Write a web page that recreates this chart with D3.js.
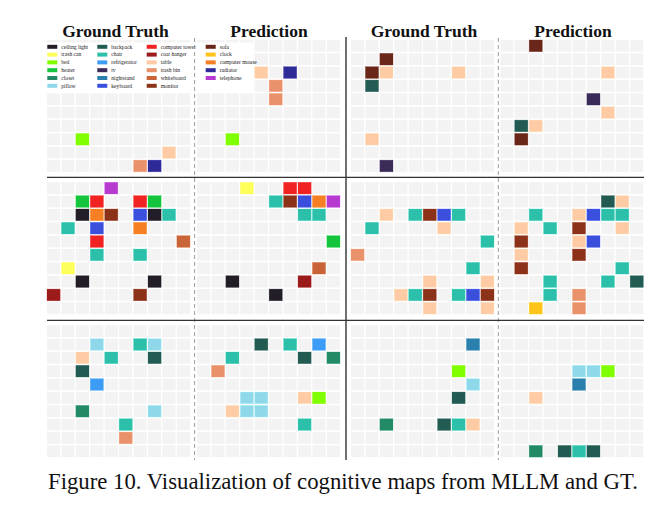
<!DOCTYPE html>
<html lang="en">
<head>
<meta charset="UTF-8">
<title>Cognitive maps</title>
<script src="https://cdn.jsdelivr.net/npm/d3@7"></script>
<style>
  body { margin: 0; background: #fff; }
</style>
</head>
<body>
<script>
// object categories and their colours (legend order, column by column)
const categories = ["ceiling light", "trash can", "bed", "heater", "closet", "pillow",
                    "backpack", "chair", "refrigerator", "tv", "nightstand", "keyboard",
                    "computer tower", "coat hanger", "table", "trash bin", "whiteboard", "monitor",
                    "sofa", "clock", "computer mouse", "radiator", "telephone"];
const colors = ["#221d26", "#ffff5a", "#80ff00", "#14c43c", "#238a66", "#8fd8ea",
                "#225b52", "#2cbfaa", "#3d9cf5", "#3b2b58", "#2a7fad", "#3a50dd",
                "#f02222", "#9b1a1a", "#ffcba4", "#e8916a", "#c86438", "#8c3219",
                "#6a2619", "#ffc41a", "#f57f22", "#2e2a98", "#b73ad0"];

const titles = ["Ground Truth", "Prediction", "Ground Truth", "Prediction"];

// each cell: [column, row, category]  (10 x 10 grid per map)
const scene1GT   = [[2,7,"bed"],[8,8,"table"],[6,9,"trash bin"],[7,9,"radiator"]];
const scene1Pred = [[4,2,"table"],[6,2,"radiator"],[5,3,"trash bin"],[5,4,"trash bin"],[2,7,"bed"]];
const scene2GT   = [[2,1,"sofa"],[1,2,"sofa"],[2,2,"table"],[7,2,"table"],[1,3,"backpack"],
                    [1,7,"table"],[2,9,"tv"]];
const scene2Pred = [[2,0,"sofa"],[7,2,"table"],[6,4,"tv"],[7,5,"table"],[1,6,"backpack"],
                    [2,6,"table"],[1,7,"sofa"]];
const scene3GT   = [[4,0,"telephone"],[2,1,"heater"],[3,1,"computer tower"],[6,1,"computer tower"],
                    [7,1,"heater"],[2,2,"ceiling light"],[3,2,"computer mouse"],[4,2,"monitor"],
                    [6,2,"keyboard"],[7,2,"ceiling light"],[8,2,"chair"],[1,3,"chair"],
                    [3,3,"keyboard"],[6,3,"computer mouse"],[3,4,"computer tower"],[9,4,"whiteboard"],
                    [3,5,"chair"],[6,5,"chair"],[1,6,"trash can"],[2,7,"ceiling light"],
                    [7,7,"ceiling light"],[0,8,"coat hanger"],[6,8,"monitor"]];
const scene3Pred = [[3,0,"trash can"],[6,0,"computer tower"],[7,0,"computer tower"],[5,1,"chair"],
                    [6,1,"monitor"],[7,1,"keyboard"],[8,1,"computer mouse"],[9,1,"telephone"],
                    [7,2,"chair"],[8,2,"chair"],[9,4,"heater"],[8,6,"whiteboard"],
                    [2,7,"ceiling light"],[7,7,"coat hanger"],[5,8,"ceiling light"]];
const scene4GT   = [[2,2,"table"],[4,2,"chair"],[5,2,"monitor"],[6,2,"keyboard"],[7,2,"chair"],
                    [1,3,"chair"],[6,3,"table"],[9,4,"chair"],[0,5,"trash bin"],[8,6,"chair"],
                    [5,7,"table"],[9,7,"table"],[3,8,"table"],[4,8,"chair"],[5,8,"monitor"],
                    [7,8,"chair"],[8,8,"keyboard"],[9,8,"monitor"],[5,9,"table"],[9,9,"table"]];
const scene4Pred = [[7,1,"backpack"],[8,1,"table"],[2,2,"chair"],[5,2,"table"],[6,2,"keyboard"],
                    [7,2,"chair"],[8,2,"chair"],[1,3,"table"],[3,3,"chair"],[5,3,"monitor"],
                    [8,3,"table"],[1,4,"monitor"],[5,4,"table"],[6,4,"keyboard"],[1,5,"table"],
                    [5,5,"monitor"],[1,6,"monitor"],[8,6,"chair"],[3,7,"chair"],[7,7,"chair"],
                    [9,7,"backpack"],[3,8,"chair"],[5,8,"trash bin"],[2,9,"clock"],[5,9,"trash bin"]];
const scene5GT   = [[3,1,"pillow"],[6,1,"chair"],[7,1,"pillow"],[2,2,"table"],[4,2,"chair"],
                    [7,2,"backpack"],[2,3,"backpack"],[3,4,"refrigerator"],[2,6,"closet"],
                    [7,6,"pillow"],[5,7,"chair"],[5,8,"trash bin"]];
const scene5Pred = [[4,1,"backpack"],[6,1,"chair"],[8,1,"refrigerator"],[2,2,"chair"],
                    [7,2,"backpack"],[9,2,"closet"],[1,3,"trash bin"],[3,5,"pillow"],[4,5,"pillow"],
                    [7,5,"table"],[8,5,"bed"],[2,6,"table"],[3,6,"pillow"],[4,6,"pillow"],[7,7,"chair"]];
const scene6GT   = [[8,1,"nightstand"],[7,3,"bed"],[8,4,"pillow"],[7,5,"backpack"],[2,7,"closet"],
                    [6,7,"backpack"],[7,7,"chair"],[8,7,"table"]];
const scene6Pred = [[5,3,"pillow"],[6,3,"pillow"],[7,3,"bed"],[5,4,"nightstand"],[2,5,"table"],
                    [2,9,"closet"],[4,9,"backpack"],[5,9,"chair"],[6,9,"backpack"]];

const maps = [
  [scene1GT, scene1Pred, scene2GT, scene2Pred],
  [scene3GT, scene3Pred, scene4GT, scene4Pred],
  [scene5GT, scene5Pred, scene6GT, scene6Pred]
];

const W = 671, H = 506;
const serif = "'Liberation Serif', 'Times New Roman', serif";
const svg = d3.select("body").append("svg")
  .attr("width", W).attr("height", H)
  .style("display", "block");

const color = d3.scaleOrdinal().domain(categories).range(colors);
const idx = d3.range(10);
const panelX = [47, 197, 351, 500.3];
const groupY = [40, 182.3, 325.3];
const gridW = 143, gridH = 131.8;

maps.forEach(function (row, gi) {
  row.forEach(function (cells, pi) {
    const x = d3.scaleBand().domain(idx).range([panelX[pi], panelX[pi] + gridW]).paddingInner(0.09);
    const y = d3.scaleBand().domain(idx).range([groupY[gi], groupY[gi] + gridH]).paddingInner(0.125);
    const g = svg.append("g");
    // empty background cells
    g.selectAll("rect.bg")
      .data(d3.cross(idx, idx))
      .enter().append("rect")
      .attr("class", "bg")
      .attr("x", d => x(d[0])).attr("y", d => y(d[1]))
      .attr("width", x.bandwidth()).attr("height", y.bandwidth())
      .attr("fill", "#f3f3f3");
    // occupied cells
    g.selectAll("rect.obj")
      .data(cells)
      .enter().append("rect")
      .attr("class", "obj")
      .attr("x", d => x(d[0])).attr("y", d => y(d[1]))
      .attr("width", x.bandwidth()).attr("height", y.bandwidth())
      .attr("fill", d => color(d[2]))
      .attr("stroke", d => d3.color(color(d[2])).brighter(0.4))
      .attr("stroke-opacity", 0.5)
      .attr("stroke-width", 0.6);
  });
});

// legend
const legend = svg.append("g");
legend.append("rect")
  .attr("x", 44).attr("y", 42.5).attr("width", 209).attr("height", 49.5)
  .attr("fill", "#fff");
const legX = [47.3, 97.3, 146.7, 205.7];
const legItem = legend.selectAll("g.item")
  .data(categories)
  .enter().append("g")
  .attr("transform", (d, i) => "translate(" + legX[Math.floor(i / 6)] + "," + (46.8 + (i % 6) * 7.8) + ")");
legItem.append("rect")
  .attr("x", 0).attr("y", -2).attr("width", 10).attr("height", 4)
  .attr("fill", d => color(d));
legItem.append("text")
  .attr("x", 14).attr("y", 1.8)
  .style("font-family", serif).style("font-size", "5.6px")
  .attr("fill", "#222")
  .text(d => d);

// separators
svg.selectAll("line.dash")
  .data([194.6, 498.3])
  .enter().append("line")
  .attr("x1", d => d).attr("x2", d => d)
  .attr("y1", 38).attr("y2", 460)
  .attr("stroke", "#9a9a9a").attr("stroke-width", 1)
  .attr("stroke-dasharray", "4,3");
svg.selectAll("line.h")
  .data([177.4, 320.4])
  .enter().append("line")
  .attr("x1", 47).attr("x2", 644)
  .attr("y1", d => d).attr("y2", d => d)
  .attr("stroke", "#333").attr("stroke-width", 1.4);
svg.append("line")
  .attr("x1", 346).attr("x2", 346).attr("y1", 37).attr("y2", 460)
  .attr("stroke", "#333").attr("stroke-width", 1.4);

// titles
const titleX = [115.5, 269, 424, 573];
svg.selectAll("text.title")
  .data(titles)
  .enter().append("text")
  .attr("class", "title")
  .attr("x", (d, i) => titleX[i]).attr("y", 36.5)
  .attr("text-anchor", "middle")
  .style("font-family", serif).style("font-weight", "bold").style("font-size", "17.5px")
  .attr("fill", "#111")
  .text(d => d);

// caption
const cap = svg.append("text")
  .attr("x", 48).attr("y", 489)
  .style("font-family", serif).style("font-size", "22px")
  .attr("fill", "#111")
  .text("Figure 10. Visualization of cognitive maps from MLLM and GT.");
const len = cap.node().getComputedTextLength();
cap.style("font-size", (22 * 590 / len) + "px");
</script>
</body>
</html>
